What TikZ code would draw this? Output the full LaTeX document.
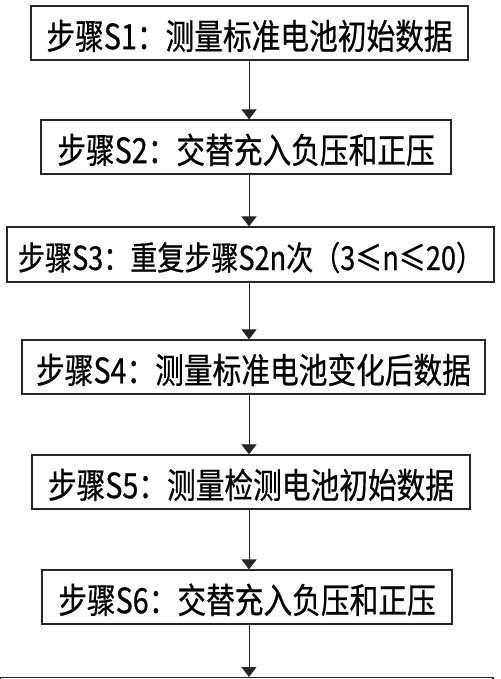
\documentclass[tikz,border=0pt]{standalone}
\usepackage{fontspec}
\newfontfamily\cjk[FakeStretch=0.82,FakeBold=0.6]{Noto Sans CJK SC}
\usetikzlibrary{arrows.meta}
\begin{document}
\begin{tikzpicture}[x=1pt,y=-1pt,
  stepbox/.style={draw=black!85,line width=1.2pt,fill=white,inner sep=0pt,
    minimum height=54pt,text height=34.5pt,text depth=2pt,
    font=\cjk\fontsize{35}{38}\selectfont,text=black},
  arr/.style={draw=black!85,line width=1pt,-{Triangle[width=15pt,length=10pt]}}]
\useasboundingbox (0,0) rectangle (500,679);
\clip (0,0) rectangle (500,679);
\fill[white] (0,0) rectangle (500,679);
\node[stepbox,minimum width=437pt] (s1) at (249.5,33) {步骤S1：测量标准电池初始数据};
\node[stepbox,minimum width=410pt] (s2) at (246,147) {步骤S2：交替充入负压和正压};
\node[stepbox,minimum width=487pt,minimum height=55pt,font=\cjk\fontsize{33}{36}\selectfont,text height=33pt] (s3) at (250.5,254.5) {步骤S3：重复步骤S2n次（3≤n≤20）};
\node[stepbox,minimum width=463pt] (s4) at (253.5,367) {步骤S4：测量标准电池变化后数据};
\node[stepbox,minimum width=438pt] (s5) at (251,482) {步骤S5：测量检测电池初始数据};
\node[stepbox,minimum width=410pt] (s6) at (247,597) {步骤S6：交替充入负压和正压};
\node[stepbox,minimum width=493pt,anchor=north] (s7) at (246.5,677) {};
\coordinate (ax) at (249,0);
\draw[arr] (s1.south -| ax) -- (s2.north -| ax);
\draw[arr] (s2.south -| ax) -- (s3.north -| ax);
\draw[arr] (s3.south -| ax) -- (s4.north -| ax);
\draw[arr] (s4.south -| ax) -- (s5.north -| ax);
\draw[arr] (s5.south -| ax) -- (s6.north -| ax);
\draw[arr] (s6.south -| ax) -- (s7.north -| ax);
\end{tikzpicture}
\end{document}
